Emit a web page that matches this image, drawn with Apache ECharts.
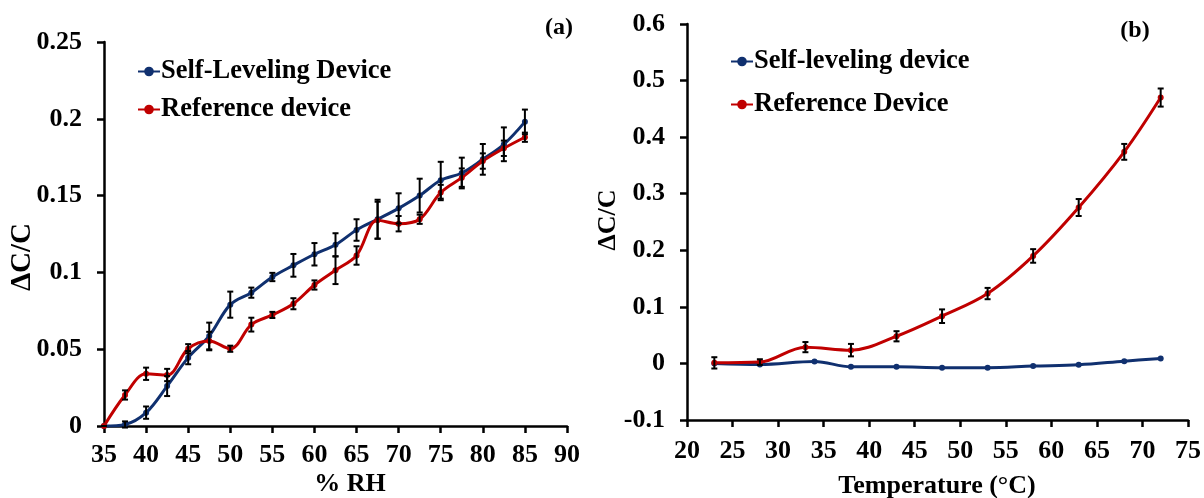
<!DOCTYPE html>
<html>
<head>
<meta charset="utf-8">
<script src="https://cdn.jsdelivr.net/npm/echarts@6/dist/echarts.min.js"></script>
<style>
  html, body { margin: 0; padding: 0; background: #fff; }
  #chart { width: 1204px; height: 498px; }
</style>
</head>
<body>
<div id="chart"></div>
<script>
// (a) capacitance change vs relative humidity
const rhValues = [35, 37.5, 40, 42.5, 45, 47.5, 50, 52.5, 55, 57.5, 60, 62.5, 65, 67.5, 70, 72.5, 75, 77.5, 80, 82.5, 85];
const rhSelfLeveling = [0, 0.001, 0.0087, 0.026, 0.0445, 0.0586, 0.079, 0.0868, 0.097, 0.1046, 0.1118, 0.118, 0.1276, 0.1346, 0.1417, 0.150, 0.160, 0.1647, 0.1736, 0.1834, 0.198];
const rhSelfLevelingErr = [0, 0.002, 0.004, 0.0065, 0.0043, 0.0087, 0.0085, 0.0033, 0.0027, 0.0074, 0.0073, 0.0075, 0.007, 0.0127, 0.0098, 0.011, 0.012, 0.01, 0.01, 0.011, 0.008];
const rhReference = [0, 0.0202, 0.034, 0.0332, 0.0503, 0.0553, 0.0503, 0.066, 0.0723, 0.0796, 0.0918, 0.1014, 0.111, 0.134, 0.1317, 0.1346, 0.152, 0.1617, 0.1725, 0.1808, 0.188];
const rhReferenceErr = [0, 0.003, 0.004, 0.004, 0.003, 0.006, 0.002, 0.0045, 0.002, 0.0036, 0.003, 0.009, 0.006, 0.012, 0.005, 0.003, 0.005, 0.006, 0.005, 0.005, 0.003];

// (b) capacitance change vs temperature
const tempSelfLeveling = [23, 28, 34, 38, 43, 48, 53, 58, 63, 68, 72];
const tempSelfLevelingVal = [0, -0.0018, 0.0035, -0.006, -0.006, -0.0076, -0.0076, -0.0047, -0.0024, 0.004, 0.0088];
const tempReference = [23, 28, 33, 38, 43, 48, 53, 58, 63, 68, 72];
const tempReferenceVal = [0.001, 0.0024, 0.0288, 0.0235, 0.048, 0.0835, 0.1235, 0.19, 0.2756, 0.374, 0.47];
const tempReferenceErr = [0.01, 0.005, 0.009, 0.011, 0.009, 0.012, 0.01, 0.012, 0.015, 0.014, 0.016];

const BLUE = '#10306f';
const RED = '#c00000';
const FONT = "'Liberation Serif', 'Times New Roman', serif";

function pairs(xs, ys) { return xs.map((x, i) => [x, ys[i]]); }

function lineSeries(name, xs, ys, color, axis) {
  return {
    type: 'line', name, xAxisIndex: axis, yAxisIndex: axis,
    data: pairs(xs, ys), smooth: 0.35,
    symbol: 'circle', symbolSize: 6,
    lineStyle: { color, width: 3 },
    itemStyle: { color },
    z: 3
  };
}

// vertical whiskers with short caps, placed through the axis scales
function errorBars(xs, ys, errs, axis) {
  return {
    type: 'custom', xAxisIndex: axis, yAxisIndex: axis, z: 6, silent: true,
    data: xs.map((x, i) => [x, ys[i] - errs[i], ys[i] + errs[i]]),
    renderItem(params, api) {
      const lo = api.coord([api.value(0), api.value(1)]);
      const hi = api.coord([api.value(0), api.value(2)]);
      const w = 3;
      const st = { stroke: '#000', lineWidth: 2 };
      return {
        type: 'group', children: [
          { type: 'line', shape: { x1: lo[0], y1: lo[1], x2: hi[0], y2: hi[1] }, style: st },
          { type: 'line', shape: { x1: lo[0] - w, y1: lo[1], x2: lo[0] + w, y2: lo[1] }, style: st },
          { type: 'line', shape: { x1: hi[0] - w, y1: hi[1], x2: hi[0] + w, y2: hi[1] }, style: st }
        ]
      };
    }
  };
}

const axisLine = { show: true, onZero: false, lineStyle: { color: '#000', width: 2.5 } };
const axisTick = { show: true, inside: false, length: 7, lineStyle: { color: '#000', width: 2.5 } };
const labelStyle = { color: '#000', fontFamily: FONT, fontWeight: 'bold', fontSize: 26 };

function legendItem(name, left, top) {
  return {
    data: [name], left, top, orient: 'vertical',
    itemWidth: 22, itemHeight: 12, itemGap: 0, padding: 0,
    textStyle: { color: '#000', fontFamily: FONT, fontWeight: 'bold', fontSize: 26.5, padding: [0, 0, 0, -4] },
    selectedMode: false
  };
}

function text(str, x, y, size, rotation) {
  return {
    type: 'text', x, y, rotation: rotation || 0,
    style: { text: str, fill: '#000', font: 'bold ' + size + 'px ' + FONT, align: 'center', verticalAlign: 'middle' }
  };
}

const option = {
  animation: false,
  backgroundColor: '#fff',
  grid: [
    { left: 104, right: 637, top: 42, bottom: 72 },
    { left: 687, right: 16, top: 24, bottom: 78 }
  ],
  xAxis: [
    { type: 'value', gridIndex: 0, min: 35, max: 90, interval: 5, axisLine, axisTick, splitLine: { show: false },
      axisLabel: Object.assign({ margin: 16 }, labelStyle) },
    { type: 'value', gridIndex: 1, min: 20, max: 75, interval: 5, axisLine, axisTick, splitLine: { show: false },
      axisLabel: Object.assign({ margin: 18 }, labelStyle) }
  ],
  yAxis: [
    { type: 'value', gridIndex: 0, min: 0, max: 0.25, interval: 0.05, axisLine, axisTick, splitLine: { show: false },
      axisLabel: Object.assign({ margin: 22 }, labelStyle) },
    { type: 'value', gridIndex: 1, min: -0.1, max: 0.6, interval: 0.1, axisLine, axisTick, splitLine: { show: false },
      axisLabel: Object.assign({ margin: 22 }, labelStyle) }
  ],
  legend: [
    legendItem('Self-Leveling Device', 137, 58),
    legendItem('Reference device', 137, 96),
    legendItem('Self-leveling device', 730, 48),
    legendItem('Reference Device', 730, 91)
  ],
  graphic: [
    text('(a)', 559, 28, 24),
    text('(b)', 1135, 31, 24),
    text('ΔC/C', 23, 257, 29, Math.PI / 2),
    text('ΔC/C', 608, 220, 26, Math.PI / 2),
    text('% RH', 350, 484, 26),
    text('Temperature (°C)', 937, 486, 26)
  ],
  series: [
    lineSeries('Self-Leveling Device', rhValues, rhSelfLeveling, BLUE, 0),
    lineSeries('Reference device', rhValues, rhReference, RED, 0),
    errorBars(rhValues, rhSelfLeveling, rhSelfLevelingErr, 0),
    errorBars(rhValues, rhReference, rhReferenceErr, 0),
    lineSeries('Self-leveling device', tempSelfLeveling, tempSelfLevelingVal, BLUE, 1),
    lineSeries('Reference Device', tempReference, tempReferenceVal, RED, 1),
    errorBars(tempReference, tempReferenceVal, tempReferenceErr, 1)
  ]
};

const chart = echarts.init(document.getElementById('chart'), null, { renderer: 'canvas' });
chart.setOption(option);
</script>
</body>
</html>
